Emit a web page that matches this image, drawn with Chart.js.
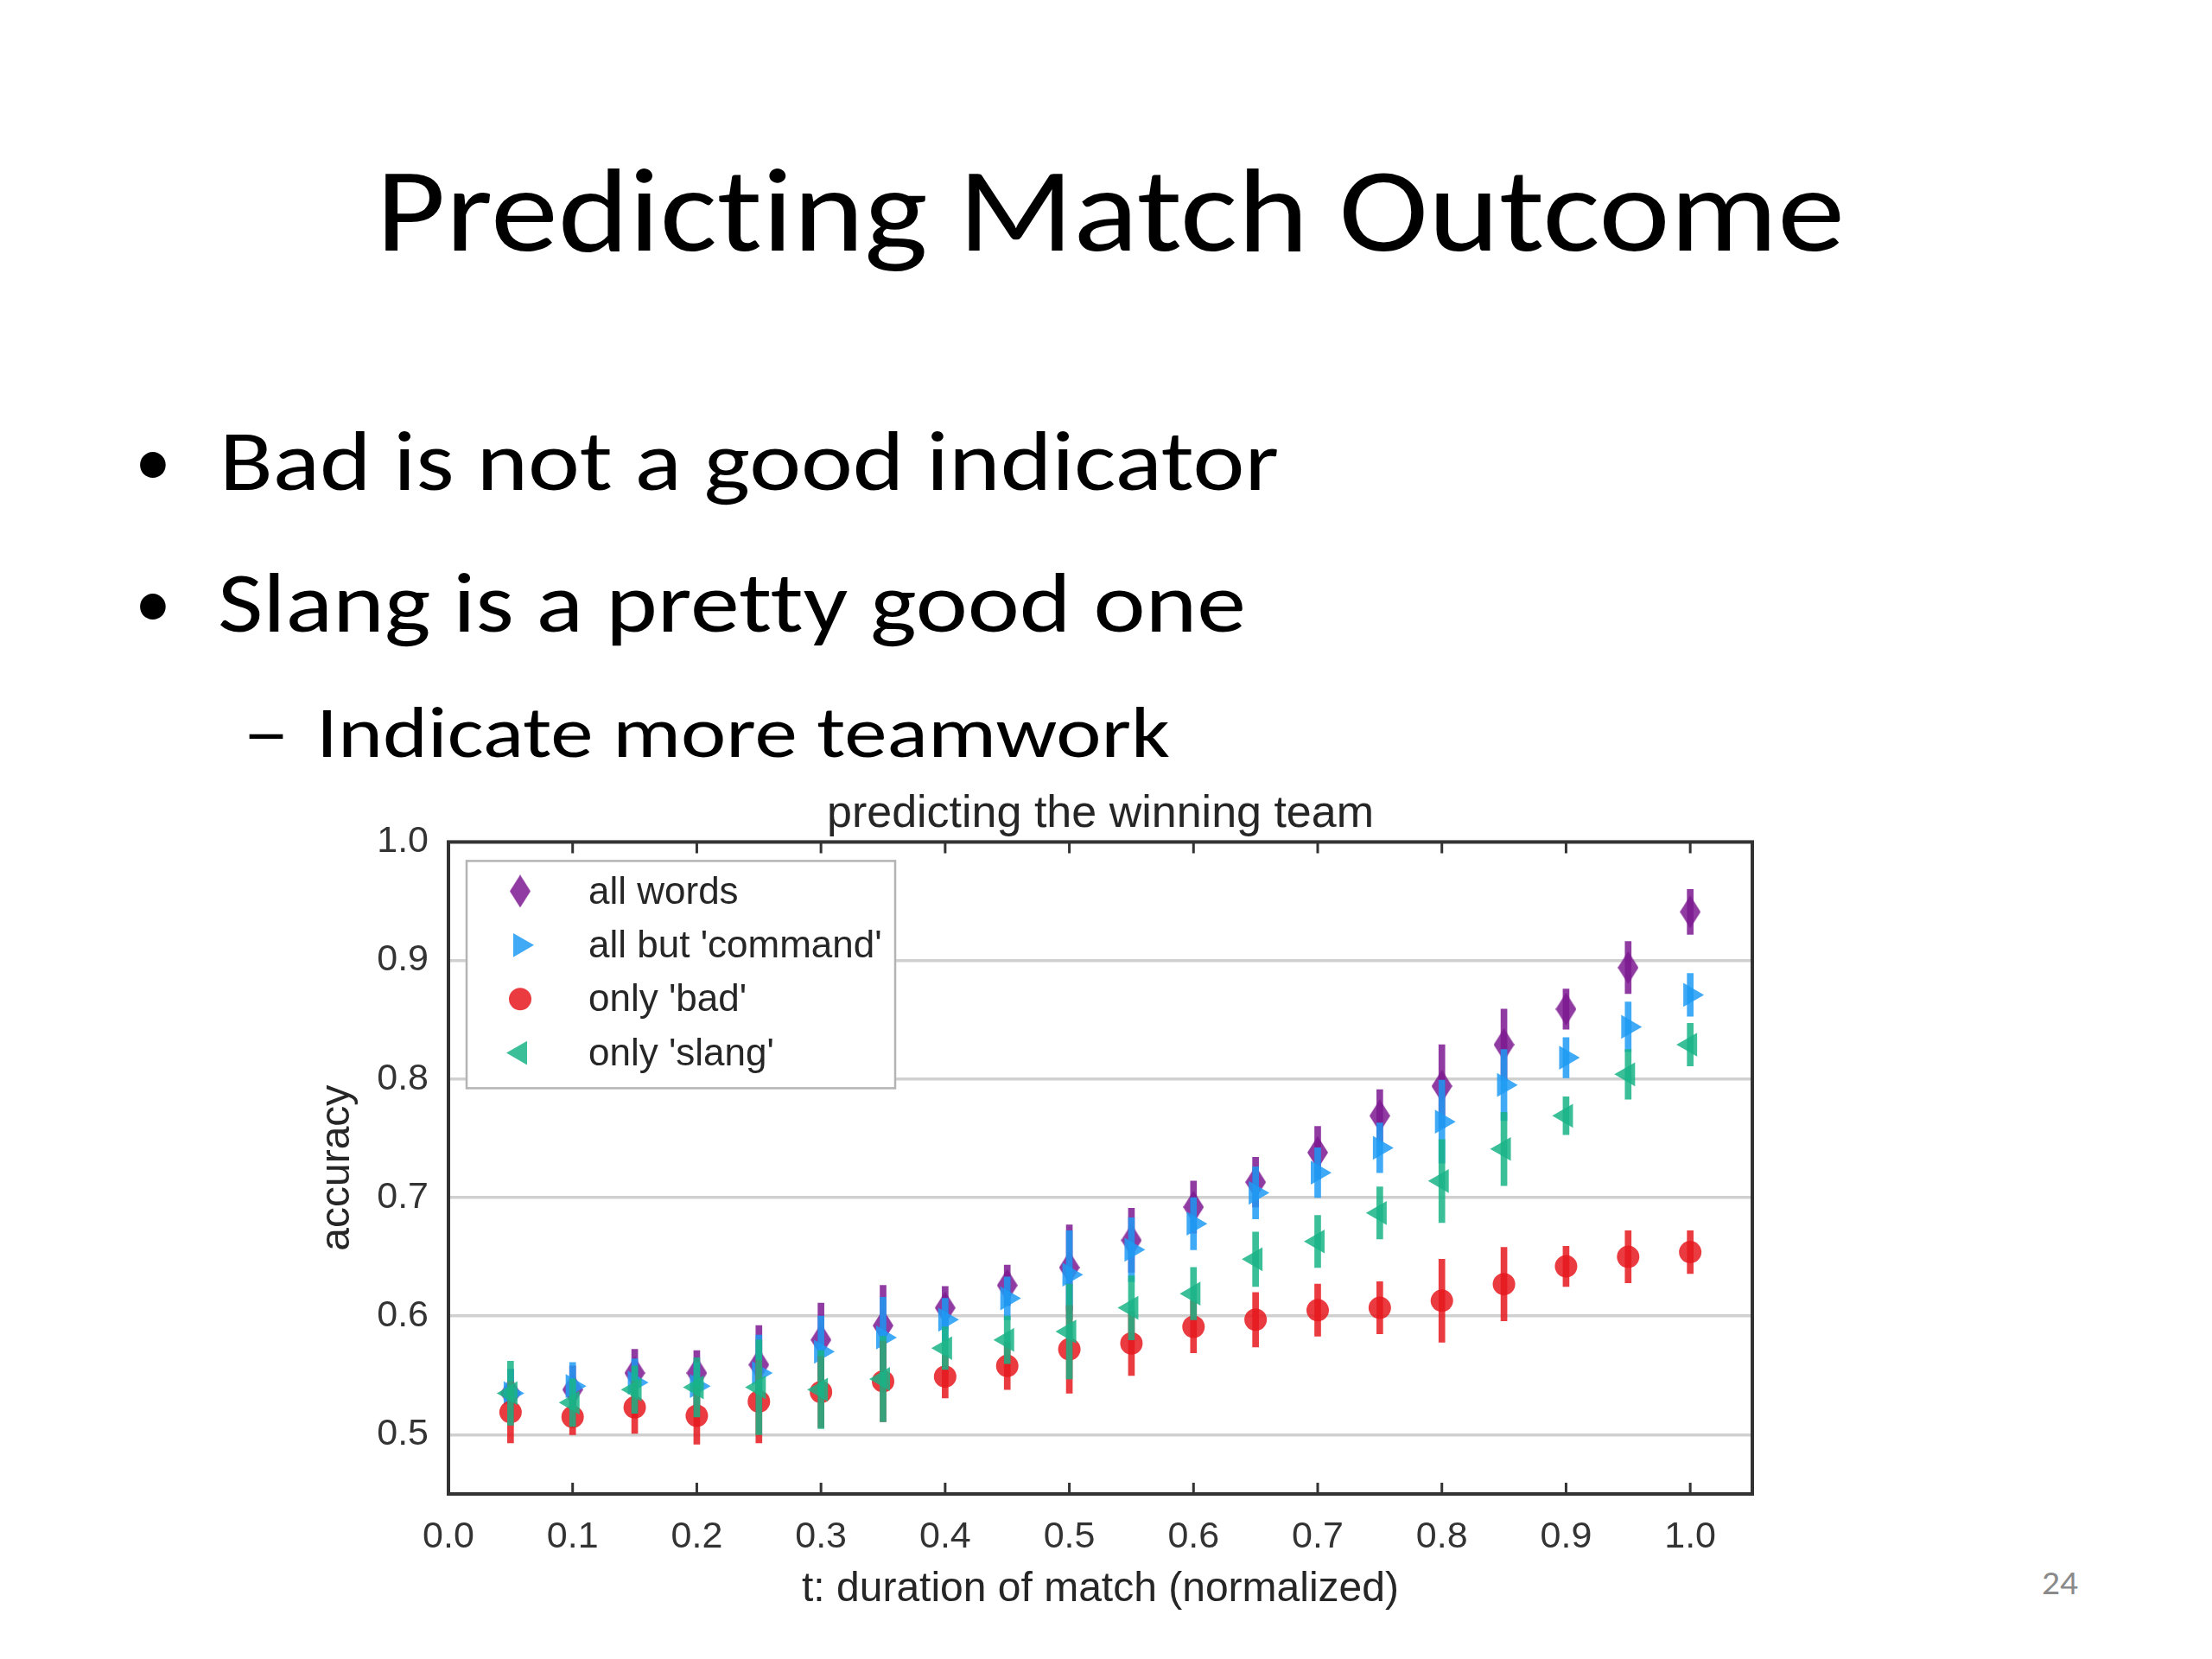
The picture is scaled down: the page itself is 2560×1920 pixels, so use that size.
<!DOCTYPE html>
<html>
<head>
<meta charset="utf-8">
<script src="https://cdn.jsdelivr.net/npm/chart.js@4/dist/chart.umd.min.js"></script>
<style>
  html, body { margin: 0; padding: 0; background: #fff; }
  #slide { position: relative; width: 2560px; height: 1920px; overflow: hidden; background: #fff; }
  .txt { position: absolute; white-space: nowrap; font-family: Carlito, Lato, "Open Sans", sans-serif; color: #000; line-height: 1.2; transform-origin: 0 0;
         font-variant-ligatures: none; font-feature-settings: "liga" 0, "clig" 0; }
  #chartBox { position: absolute; left: 300px; top: 880px; width: 1840px; height: 1020px; }
</style>
</head>
<body>
<div id="slide">
  <div class="txt" id="title" style="font-size:138px">Predicting Match Outcome</div>
  <div class="txt" id="dot1" style="font-size:84px">•</div>
  <div class="txt" id="b1" style="font-size:98px">Bad is not a good indicator</div>
  <div class="txt" id="dot2" style="font-size:84px">•</div>
  <div class="txt" id="b2" style="font-size:98px">Slang is a pretty good one</div>
  <div class="txt" id="dash" style="font-size:85px">–</div>
  <div class="txt" id="sub" style="font-size:85px">Indicate more teamwork</div>
  <div class="txt" id="pnum" style="font-size:38px;color:#8a8a8a">24</div>
  <div id="chartBox"><canvas id="chart"></canvas></div>
</div>
<script>
// t: duration of match (normalized)
const durations = [0.05, 0.10, 0.15, 0.20, 0.25, 0.30, 0.35, 0.40, 0.45, 0.50,
                   0.55, 0.60, 0.65, 0.70, 0.75, 0.80, 0.85, 0.90, 0.95, 1.00];

const allWords    = [0.535, 0.538, 0.552, 0.552, 0.559, 0.580, 0.592, 0.607, 0.626, 0.641,
                     0.664, 0.692, 0.713, 0.738, 0.769, 0.794, 0.829, 0.859, 0.894, 0.941];
const allWordsErr = [0.020, 0.020, 0.020, 0.019, 0.033, 0.031, 0.034, 0.018, 0.017, 0.036,
                     0.027, 0.022, 0.021, 0.022, 0.022, 0.035, 0.030, 0.017, 0.022, 0.019];

const allButCommand    = [0.535, 0.541, 0.544, 0.541, 0.552, 0.570, 0.582, 0.597, 0.615, 0.635,
                          0.656, 0.678, 0.704, 0.721, 0.742, 0.764, 0.795, 0.818, 0.844, 0.871];
const allButCommandErr = [0.020, 0.020, 0.020, 0.020, 0.032, 0.030, 0.034, 0.018, 0.018, 0.037,
                          0.027, 0.022, 0.022, 0.021, 0.021, 0.035, 0.030, 0.017, 0.021, 0.018];

const onlyBad    = [0.519, 0.515, 0.523, 0.516, 0.528, 0.536, 0.545, 0.549, 0.558, 0.572,
                    0.577, 0.591, 0.597, 0.605, 0.607, 0.613, 0.627, 0.642, 0.650, 0.654];
const onlyBadErr = [0.026, 0.015, 0.022, 0.024, 0.035, 0.030, 0.034, 0.018, 0.020, 0.037,
                    0.027, 0.022, 0.023, 0.022, 0.022, 0.035, 0.031, 0.017, 0.022, 0.018];

const onlySlang    = [0.535, 0.527, 0.538, 0.540, 0.540, 0.538, 0.547, 0.573, 0.580, 0.587,
                      0.607, 0.619, 0.648, 0.663, 0.687, 0.714, 0.741, 0.769, 0.804, 0.829];
const onlySlangErr = [0.027, 0.020, 0.020, 0.025, 0.040, 0.033, 0.036, 0.018, 0.020, 0.040,
                      0.027, 0.022, 0.023, 0.022, 0.022, 0.035, 0.031, 0.016, 0.021, 0.018];

const seriesLabels = ['all words', "all but 'command'", "only 'bad'", "only 'slang'"];
const xTicks = [0.0, 0.1, 0.2, 0.3, 0.4, 0.5, 0.6, 0.7, 0.8, 0.9, 1.0];
const yTicks = [0.5, 0.6, 0.7, 0.8, 0.9, 1.0];

const PURPLE = 'rgba(125,25,145,0.85)';
const BLUE   = 'rgba(30,155,245,0.85)';
const RED    = 'rgba(230,25,30,0.85)';
const TEAL   = 'rgba(25,180,135,0.85)';

// thin diamond marker (matplotlib 'd')
function thinDiamond(color) {
  const c = document.createElement('canvas');
  c.width = 24; c.height = 38;
  const g = c.getContext('2d');
  g.fillStyle = color;
  g.beginPath();
  g.moveTo(12, 0); g.lineTo(24, 19); g.lineTo(12, 38); g.lineTo(0, 19);
  g.closePath();
  g.fill();
  return c;
}
const diamond = thinDiamond(PURPLE);

function points(vals) { return durations.map((x, i) => ({x: x, y: vals[i]})); }
function errs(vals, e) { return durations.map((x, i) => ({x: x, y: [vals[i] - e[i], vals[i] + e[i]]})); }

function errDataset(vals, e, color, order) {
  return {type: 'bar', data: errs(vals, e), backgroundColor: color, borderWidth: 0,
          barThickness: 7, grouped: false, order: order};
}
function markDataset(label, vals, color, style, radius, rotation, order) {
  return {type: 'scatter', label: label, data: points(vals), pointStyle: style,
          pointRadius: radius, pointRotation: rotation, backgroundColor: color,
          pointBackgroundColor: color, pointBorderWidth: 0, showLine: false, order: order};
}

const markers = [
  markDataset(seriesLabels[0], allWords, PURPLE, diamond, 14, 0, 7),
  markDataset(seriesLabels[1], allButCommand, BLUE, 'triangle', 16, 90, 5),
  markDataset(seriesLabels[2], onlyBad, RED, 'circle', 13, 0, 3),
  markDataset(seriesLabels[3], onlySlang, TEAL, 'triangle', 16, -90, 1)
];

const frame = {
  id: 'frame',
  afterDatasetsDraw(chart) {
    const {ctx, chartArea: a, scales: {x}} = chart;
    ctx.save();
    ctx.strokeStyle = '#333';
    ctx.lineWidth = 3;
    xTicks.forEach(v => {
      const px = x.getPixelForValue(v);
      ctx.beginPath();
      ctx.moveTo(px, a.bottom); ctx.lineTo(px, a.bottom - 13);
      ctx.moveTo(px, a.top); ctx.lineTo(px, a.top + 13);
      ctx.stroke();
    });
    ctx.lineWidth = 4;
    ctx.strokeRect(a.left, a.top, a.right - a.left, a.bottom - a.top);
    ctx.restore();
  },
  afterDraw(chart) {
    const {ctx, chartArea: a} = chart;
    const bx = a.left + 21, by = a.top + 22, bw = 496, bh = 263;
    ctx.save();
    ctx.fillStyle = '#fff';
    ctx.fillRect(bx, by, bw, bh);
    ctx.strokeStyle = '#b4b4b4';
    ctx.lineWidth = 2.5;
    ctx.strokeRect(bx, by, bw, bh);
    ctx.font = '44px "Liberation Sans", Arial, sans-serif';
    ctx.textBaseline = 'middle';
    markers.forEach((ds, i) => {
      const cy = a.top + 57 + i * 62.4;
      const mx = a.left + 83;
      if (Chart.helpers && Chart.helpers.drawPoint) {
        ctx.fillStyle = ds.backgroundColor;
        Chart.helpers.drawPoint(ctx, {pointStyle: ds.pointStyle, radius: ds.pointRadius,
          rotation: ds.pointRotation, borderWidth: 0}, mx, cy);
      }
      ctx.fillStyle = '#262626';
      ctx.fillText(ds.label, a.left + 162, cy + 2);
    });
    ctx.restore();
  }
};

new Chart(document.getElementById('chart'), {
  type: 'scatter',
  data: {
    datasets: [
      errDataset(allWords, allWordsErr, PURPLE, 8),
      errDataset(allButCommand, allButCommandErr, BLUE, 6),
      errDataset(onlyBad, onlyBadErr, RED, 4),
      errDataset(onlySlang, onlySlangErr, TEAL, 2)
    ].concat(markers)
  },
  options: {
    responsive: true,
    maintainAspectRatio: false,
    devicePixelRatio: 1,
    animation: false,
    events: [],
    layout: {padding: {left: 0, right: 112, top: 0, bottom: 0}},
    plugins: {
      legend: {display: false},
      tooltip: {enabled: false},
      title: {
        display: true, text: 'predicting the winning team', fullSize: false,
        color: '#262626', font: {family: '"Liberation Sans", Arial, sans-serif', size: 52, weight: 'normal'},
        padding: {top: 31, bottom: 1}
      }
    },
    scales: {
      x: {
        type: 'linear', min: 0, max: 1.05, offset: false,
        afterBuildTicks: s => { s.ticks = xTicks.map(v => ({value: v})); },
        afterFit: s => { s.height = 171; },
        grid: {display: false, drawTicks: false},
        border: {display: false},
        ticks: {color: '#333', padding: 24, autoSkip: false, maxRotation: 0,
                font: {family: '"Liberation Sans", Arial, sans-serif', size: 43},
                callback: v => Number(v).toFixed(1)},
        title: {display: true, text: 't: duration of match (normalized)', color: '#262626',
                font: {family: '"Liberation Sans", Arial, sans-serif', size: 48},
                padding: {top: 0, bottom: 31}}
      },
      y: {
        type: 'linear', min: 0.45, max: 1.0,
        afterBuildTicks: s => { s.ticks = yTicks.map(v => ({value: v})); },
        afterFit: s => { s.width = 219; },
        grid: {color: '#d0d0d0', lineWidth: 3.5, drawTicks: false},
        border: {display: false},
        ticks: {color: '#333', padding: 23,
                font: {family: '"Liberation Sans", Arial, sans-serif', size: 43},
                callback: v => Number(v).toFixed(1)},
        title: {display: true, text: 'accuracy', color: '#262626',
                font: {family: '"Liberation Sans", Arial, sans-serif', size: 48},
                padding: {top: 62, bottom: 0}}
      }
    }
  },
  plugins: [frame]
});

// slide text: put each line on its baseline and stretch to the measured width
function place(id, left, baseline, width) {
  const el = document.getElementById(id);
  const probe = document.createElement('span');
  probe.style.cssText = 'display:inline-block;width:0;height:0;vertical-align:baseline';
  el.appendChild(probe);
  el.style.left = left + 'px';
  el.style.top = '0px';
  const base = probe.offsetTop;
  el.style.top = (baseline - base) + 'px';
  if (width) {
    const w = el.getBoundingClientRect().width;
    el.style.transform = 'scaleX(' + (width / w) + ')';
  }
}
function layoutText() {
  place('title', 435, 290, 1700);
  place('dot1', 156, 562, 0);
  place('b1', 254, 567, 1226);
  place('dot2', 156, 726, 0);
  place('b2', 252, 731, 1190);
  place('dash', 281, 876, 54);
  place('sub', 366, 876, 988);
  place('pnum', 2363, 1845, 42);
}
if (document.fonts && document.fonts.ready) document.fonts.ready.then(layoutText); else layoutText();
</script>
</body>
</html>
